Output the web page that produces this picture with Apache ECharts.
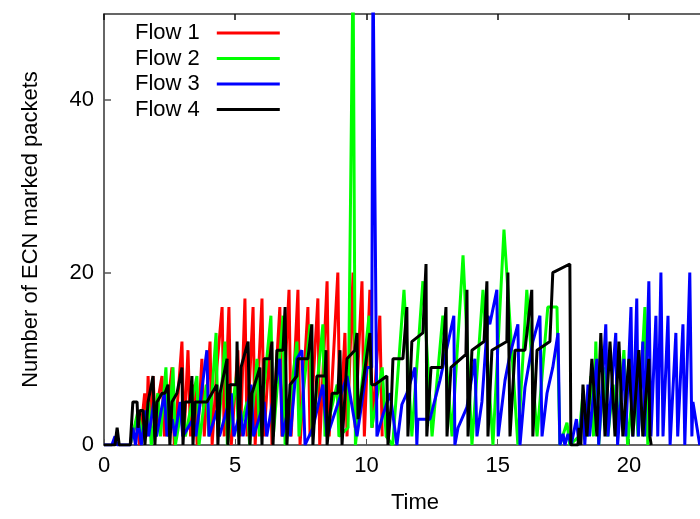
<!DOCTYPE html>
<html>
<head>
<meta charset="utf-8">
<script src="https://cdn.jsdelivr.net/npm/echarts@6/dist/echarts.min.js"></script>
<style>
html,body{margin:0;padding:0;background:#fff;overflow:hidden;width:700px;height:519px;}
#chart{width:726px;height:519px;}
</style>
</head>
<body>
<div id="chart"></div>
<script>
const seriesNames = ['Flow 1', 'Flow 2', 'Flow 3', 'Flow 4'];
const xTickValues = [0, 5, 10, 15, 20];
const yTickValues = [0, 20, 40];

const flow1 = [[1.0,0],[1.25,3],[1.35,0],[1.55,6],[1.62,1],[1.68,8],[1.76,1],[1.87,8],[1.97,1],[2.1,6],[2.21,8],[2.3,1],[2.45,5],[2.59,9],[2.68,0],[2.97,12],[3.05,1],[3.2,11],[3.3,1],[3.45,7],[3.55,0],[3.73,10],[3.82,1],[4.04,12],[4.12,0],[4.3,9],[4.5,16],[4.58,1],[4.76,16],[4.85,0],[5.1,11],[5.2,1],[5.37,17],[5.45,1],[5.68,16],[5.76,0],[6.02,17],[6.1,1],[6.32,12],[6.4,0],[6.7,16],[6.78,1],[7.05,18],[7.13,1],[7.39,18],[7.47,0],[7.77,16],[7.85,1],[8.15,17],[8.22,0],[8.5,19],[8.58,1],[8.91,20],[8.99,1],[9.18,13],[9.26,1],[9.49,20],[9.57,2],[9.83,19],[9.92,1],[10.13,18],[10.22,2],[10.51,15],[10.6,1]];

const flow2 = [[1.0,0],[1.3,4],[1.45,1],[1.7,5],[1.8,0],[2.05,6],[2.15,1],[2.36,9],[2.45,1],[2.63,9],[2.72,0],[3.0,5],[3.1,1],[3.54,8],[3.62,0],[3.9,7],[4.0,1],[4.27,13],[4.35,1],[4.61,12],[4.7,0],[5.05,8],[5.12,1],[5.45,5],[5.55,0],[5.83,10],[5.92,1],[6.36,15],[6.45,1],[6.82,15],[6.9,0],[7.35,12],[7.43,1],[7.85,14],[7.93,1],[8.34,14],[8.42,1],[8.88,7],[8.95,1],[9.3,2],[9.49,56],[9.58,0],[10.1,15],[10.2,2],[10.6,9],[10.75,1],[11.0,0],[11.43,18],[11.73,1],[12.15,19],[12.5,1],[12.91,15],[13.26,1],[13.68,22],[14.02,0],[14.44,18],[14.82,0],[15.24,25],[15.77,0],[16.11,18],[16.5,1],[16.91,16],[17.26,16],[17.37,0],[17.64,2.6],[17.75,0],[18.1,1],[18.25,6],[18.4,1],[18.55,8],[18.65,1],[18.74,12],[18.85,0],[19.05,9],[19.2,1],[19.4,7],[19.55,1],[19.81,11],[19.95,0],[20.2,8],[20.35,1],[20.61,16],[20.72,0]];

const flow3 = [[0,0],[0.3,0],[0.42,1],[0.5,0],[1.0,0],[1.1,2],[1.2,0],[1.3,3],[1.42,0],[1.6,4],[1.7,1],[1.9,5],[2.0,1],[2.3,6],[2.4,1],[2.6,3],[2.7,1],[2.9,5],[3.0,1],[3.4,3],[3.5,1],[3.92,11],[4.0,1],[4.3,4],[4.4,1],[4.85,6],[4.95,1],[5.2,4],[5.3,1],[5.6,7],[5.7,1],[6.1,5],[6.2,1],[6.7,10],[6.8,1],[7.0,4],[7.1,1],[7.35,10],[7.54,11],[7.66,0],[7.96,2],[8.34,7],[8.5,1],[9.26,8],[9.64,1],[10.02,9],[10.2,9],[10.25,56],[10.4,1],[10.63,3.5],[10.9,6],[11.16,0],[11.35,4.7],[11.54,6],[11.85,9],[11.92,0],[11.96,3],[12.42,3],[12.8,7.5],[13.33,15],[13.37,0],[13.49,2],[13.83,4.4],[14.13,10],[14.21,1],[14.4,5],[14.63,15],[14.7,14],[14.97,18],[15.02,1],[15.28,7.5],[15.47,10.5],[15.77,14],[15.85,0],[16.04,6.7],[16.34,12],[16.61,15],[16.69,1],[16.88,6],[17.1,9],[17.3,13],[17.37,0],[17.49,1.3],[17.56,0],[17.68,1.3],[17.8,0],[18.0,3],[18.1,0],[18.25,5],[18.32,0],[18.44,7],[18.5,1],[18.78,10],[18.85,0],[19.12,14],[19.2,1],[19.5,13],[19.57,0],[19.81,10],[19.88,1],[20.08,16],[20.15,1],[20.3,17],[20.36,1],[20.53,12],[20.6,1],[20.76,19],[20.84,1],[21.03,15],[21.1,1],[21.22,20],[21.3,1],[21.49,15],[21.57,0],[21.79,13],[21.86,1],[22.06,14],[22.13,0],[22.32,20],[22.4,1],[22.44,5],[22.7,0]];

const flow4 = [[0,0],[0.42,0],[0.5,2],[0.58,0],[1.0,0],[1.1,5],[1.26,5],[1.3,2],[1.37,4],[1.49,4],[1.56,0],[1.68,5],[1.87,8],[1.94,0],[2.02,5],[2.21,6],[2.32,6],[2.44,7],[2.51,0],[2.59,5],[2.78,6],[2.97,9],[3.01,0],[3.09,5],[3.28,5],[3.35,8],[3.39,0],[3.47,5],[3.92,5],[4.3,7],[4.34,0],[4.42,6],[4.69,10],[4.72,0],[4.8,7],[5.05,7],[5.07,12],[5.14,0],[5.22,9],[5.49,12],[5.56,0],[5.64,6],[5.94,9],[6.02,0],[6.1,10],[6.32,10],[6.4,12],[6.44,0],[6.59,11],[6.82,11],[6.9,16],[6.97,0],[7.09,7],[7.35,8],[7.39,10],[7.77,10],[7.92,14],[7.96,0],[8.11,8],[8.42,8],[8.46,11],[8.5,0],[8.69,6],[8.91,6],[8.99,11],[9.07,0],[9.26,10],[9.56,11],[9.64,13],[9.68,3],[9.75,3],[10.13,13],[10.2,7],[10.32,7],[10.78,8],[10.82,0],[10.95,5],[11.01,10],[11.39,10],[11.54,16],[11.58,1],[11.73,12],[12.15,13],[12.27,21],[12.3,1],[12.46,9],[12.88,9],[13.03,16],[13.07,1],[13.22,9],[13.79,10.5],[13.83,18],[13.87,1],[14.02,11],[14.48,12],[14.59,19],[14.63,1],[14.78,11],[15.35,12],[15.39,20],[15.47,1],[15.66,11],[16.04,11],[16.3,18],[16.34,1],[16.5,11],[16.99,12],[17.1,20],[17.75,21],[17.79,0],[18.06,0],[18.1,2],[18.17,0],[18.25,7],[18.4,1],[18.59,10],[18.78,1],[18.93,13],[19.09,1],[19.28,12],[19.47,1],[19.62,12],[19.77,1],[20.0,10],[20.15,1],[20.38,11],[20.53,1],[20.76,10],[20.8,1],[20.85,0]];

const flowData = [flow1, flow2, flow3, flow4];
const flowColors = ['#ff0000', '#00ff00', '#0000ff', '#000000'];

const FONT = 'Liberation Sans, Arial, Helvetica, sans-serif';
const chart = echarts.init(document.getElementById('chart'), null, {renderer: 'canvas'});

const axisLineStyle = {color: '#333', width: 1.5};
const option = {
  backgroundColor: '#fff',
  animation: false,
  grid: {left: 104, top: 14, bottom: 71, right: 0, containLabel: false},
  legend: {
    data: seriesNames,
    orient: 'vertical',
    left: 135,
    top: 22,
    padding: 0,
    align: 'right',
    icon: 'rect',
    itemWidth: 63,
    itemHeight: 3,
    itemGap: 3.5,
    textStyle: {fontFamily: FONT, fontSize: 22, lineHeight: 20, color: '#000', padding: [0, 12, 0, 0]}
  },
  xAxis: [{
    type: 'value', min: 0, max: 23.7, interval: 5, position: 'bottom',
    axisLine: {show: true, onZero: false, lineStyle: axisLineStyle},
    axisTick: {show: true, inside: true, length: 6, lineStyle: {color: '#555', width: 1}},
    axisLabel: {fontFamily: FONT, fontSize: 22, color: '#000', margin: 10, showMaxLabel: false,
      formatter: function (v) { return xTickValues.indexOf(v) >= 0 ? String(v) : ''; }},
    splitLine: {show: false},
    name: 'Time', nameLocation: 'middle', nameGap: 47,
    nameTextStyle: {fontFamily: FONT, fontSize: 22, color: '#000'}
  }, {
    type: 'value', min: 0, max: 23.7, interval: 5, position: 'top',
    axisLine: {show: true, onZero: false, lineStyle: axisLineStyle},
    axisTick: {show: true, inside: true, length: 6, lineStyle: {color: '#111', width: 1.5}},
    axisLabel: {show: false},
    splitLine: {show: false}
  }],
  yAxis: [{
    type: 'value', min: 0, max: 50, interval: 20, position: 'left',
    axisLine: {show: true, onZero: false, lineStyle: axisLineStyle},
    axisTick: {show: true, inside: true, length: 7, lineStyle: {color: '#555', width: 1.5}},
    axisLabel: {fontFamily: FONT, fontSize: 22, color: '#000', margin: 10, showMaxLabel: false,
      formatter: function (v) { return yTickValues.indexOf(v) >= 0 ? String(v) : ''; }},
    splitLine: {show: false},
    name: 'Number of ECN marked packets', nameLocation: 'middle', nameGap: 62,
    nameTextStyle: {fontFamily: FONT, fontSize: 22, color: '#000'}
  }],
  series: seriesNames.map(function (n, i) {
    return {
      name: n, type: 'line', data: flowData[i], symbol: 'none', showSymbol: false,
      clip: true, xAxisIndex: 0, yAxisIndex: 0,
      lineStyle: {color: flowColors[i], width: 3},
      itemStyle: {color: flowColors[i]},
      z: 2 + i
    };
  })
};
chart.setOption(option);
</script>
</body>
</html>
